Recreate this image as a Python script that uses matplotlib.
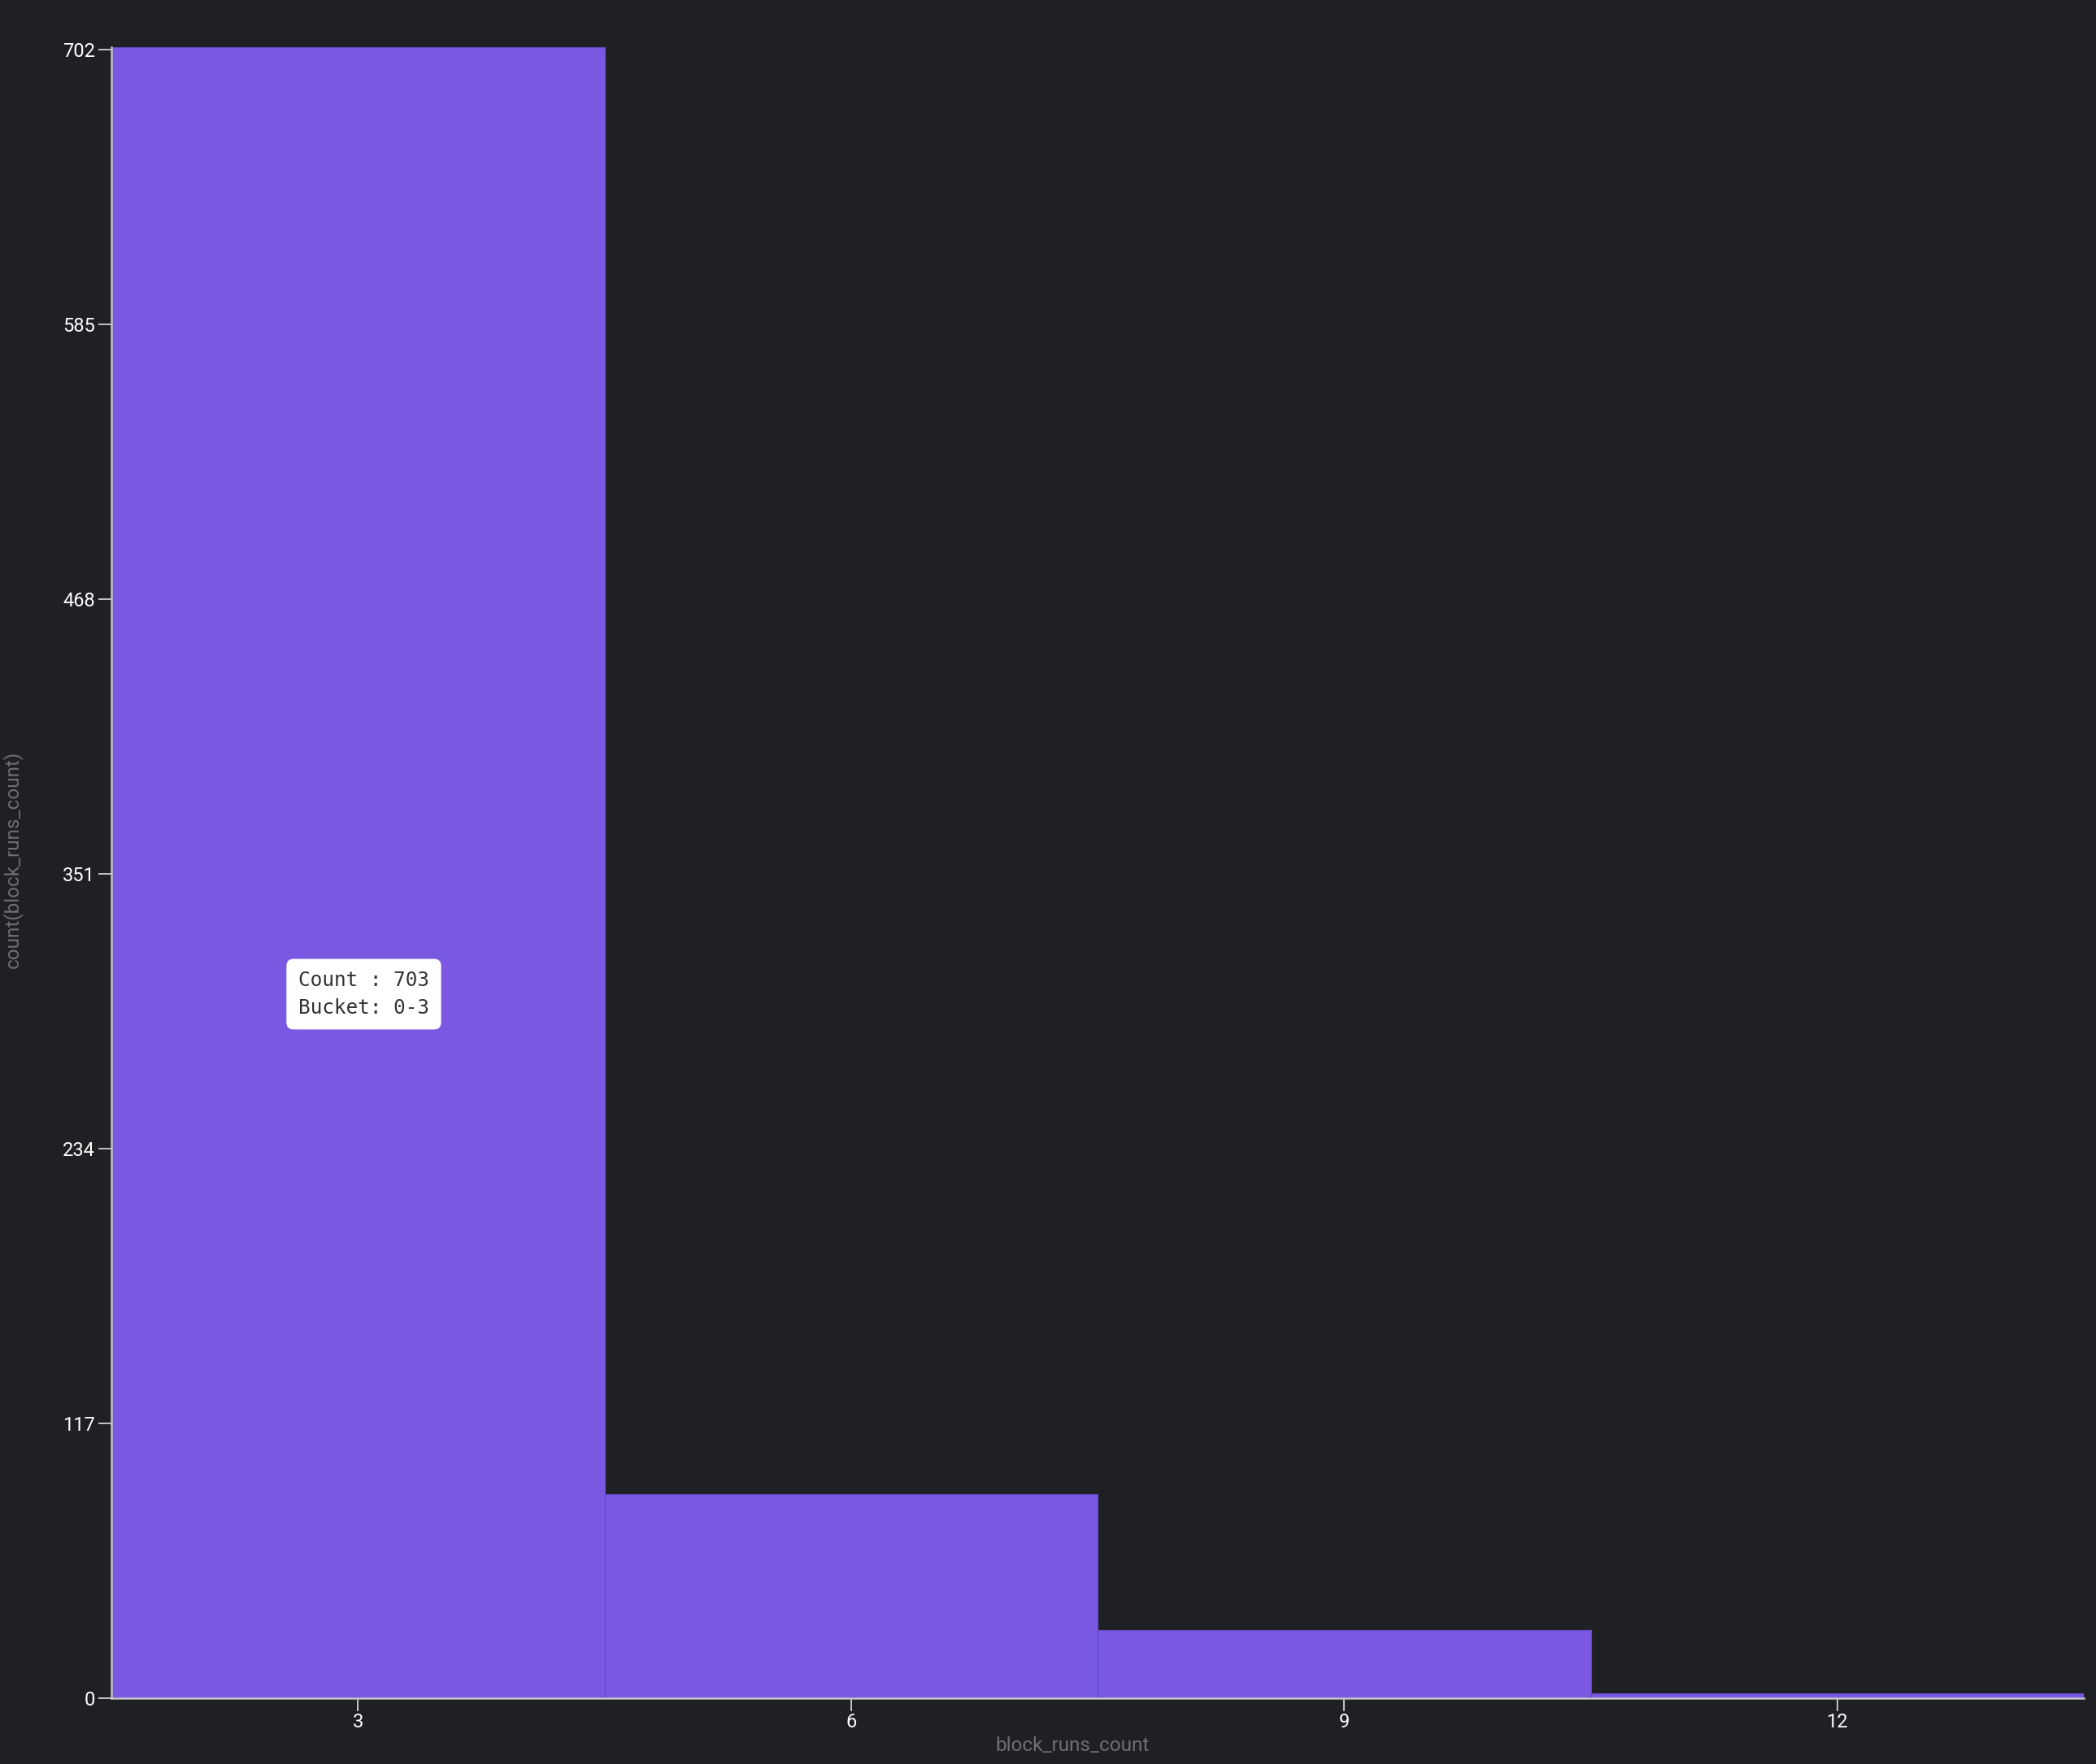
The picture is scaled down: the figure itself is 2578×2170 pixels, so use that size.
import matplotlib
matplotlib.use("Agg")
import matplotlib.pyplot as plt

# --- data ---
bucket_centers = [3, 6, 9, 12]
bucket_labels = ["0-3", "3-6", "6-9", "9-12"]
counts = [703, 87, 29, 2]
bucket_width = 3
y_ticks = [0, 117, 234, 351, 468, 585, 702]
x_ticks = [3, 6, 9, 12]

BG = "#1f2024"
BAR = "#7a58e2"
AXIS = "#c4c4c8"
LABEL = "#6d6f75"

plt.rcParams["font.family"] = ["Roboto", "DejaVu Sans"]

W, H = 2578, 2170
fig = plt.figure(figsize=(W / 100, H / 100), dpi=100, facecolor=BG)
ax = fig.add_axes([137 / W, 1 - 2089 / H, (2563 - 137) / W, (2089 - 58) / H])
ax.set_facecolor(BG)

ax.bar(bucket_centers, counts, width=bucket_width, color=BAR,
       edgecolor="#6247c0", linewidth=0.8, zorder=2)

ax.set_xlim(bucket_centers[0] - bucket_width / 2, bucket_centers[-1] + bucket_width / 2)
ax.set_ylim(0, max(counts))
ax.set_xticks(x_ticks)
ax.set_yticks(y_ticks)
ax.tick_params(colors=AXIS, labelcolor="white", labelsize=17,
               length=11.5, width=1.4)
ax.tick_params(axis="x", pad=1.5)
ax.tick_params(axis="y", pad=3)

for side in ["top", "right"]:
    ax.spines[side].set_visible(False)
for side in ["left", "bottom"]:
    ax.spines[side].set_color(AXIS)
    ax.spines[side].set_linewidth(1.8)
    ax.spines[side].set_zorder(3)

ax.set_xlabel("block_runs_count", color=LABEL, fontsize=17.5)
ax.xaxis.set_label_coords((1319 - 137) / (2563 - 137), -(2147 - 2089) / (2089 - 58))
ax.xaxis.label.set_va("center")
ax.set_ylabel("count(block_runs_count)", color=LABEL, fontsize=17.5)
ax.yaxis.set_label_coords(-(137 - 15) / (2563 - 137), 1 - (1057 - 58) / (2089 - 58))
ax.yaxis.label.set_va("center")

# hover tooltip for the first bucket
tip = f"Count : {counts[0]}\nBucket: {bucket_labels[0]}"
ax.text((367 - 137) / (2563 - 137), 1 - (1223 - 58) / (2089 - 58), tip,
        transform=ax.transAxes, ha="left", va="center",
        family="DejaVu Sans Mono", fontsize=17.6, color="#333333",
        linespacing=1.5, zorder=5,
        bbox=dict(boxstyle="round,pad=0.6,rounding_size=0.35",
                  facecolor="white", edgecolor="none"))

fig.savefig("out.png", dpi=100, facecolor=BG)
